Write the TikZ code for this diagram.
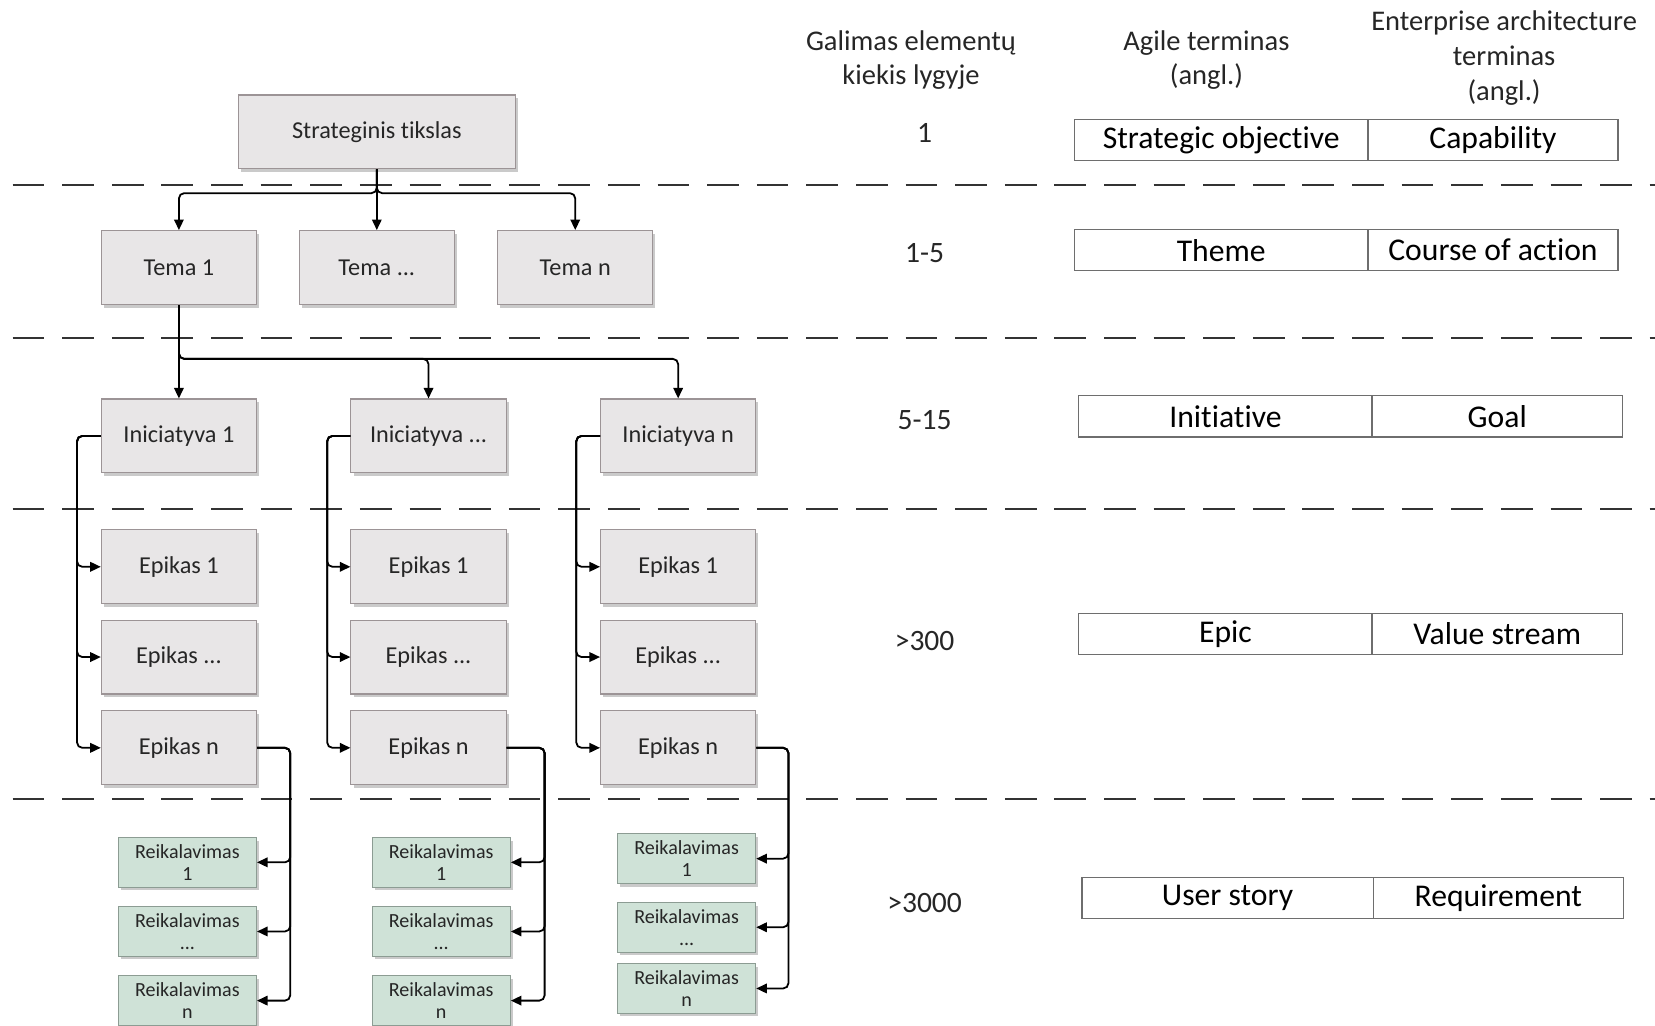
\documentclass[tikz,border=0pt]{standalone}
\usepackage{fontspec}
\setmainfont{Carlito}[Ligatures=NoCommon]
\usetikzlibrary{shadows,arrows.meta}
\definecolor{boxfill}{HTML}{E8E6E7}
\definecolor{boxline}{HTML}{9C9496}
\definecolor{grfill}{HTML}{CFE2D7}
\definecolor{grline}{HTML}{8C9C93}
\definecolor{sepline}{HTML}{333333}
\definecolor{cellline}{HTML}{6E6E6E}
\begin{document}
\begin{tikzpicture}[x=1pt,y=-1pt,
  gbox/.style={draw=boxline, line width=1pt, fill=boxfill, minimum width=147pt, minimum height=70pt, inner sep=2pt,
    font=\fontsize{23}{27}\selectfont, text=black!85,
    drop shadow={shadow xshift=2.5pt, shadow yshift=-3pt, opacity=0.35, fill=black!60}},
  rbox/.style={gbox, fill=grfill, draw=grline, minimum width=131pt, minimum height=47pt, inner sep=1pt, align=center,
    font=\fontsize{19}{21}\selectfont},
  arr/.style={-{Triangle[length=10pt,width=9pt]}, line width=1.7pt, rounded corners=5pt},
  sep/.style={draw=sepline, line width=2.2pt, dash pattern=on 30pt off 17pt},
  cell/.style={draw=cellline, line width=1.3pt, minimum height=39pt, inner sep=0pt, font=\fontsize{30}{34}\selectfont},
  head/.style={align=center, font=\fontsize{27}{32}\selectfont, text=black!85},
  num/.style={font=\fontsize{28}{32}\selectfont, text=black!85}]

\useasboundingbox (0,0) rectangle (1568,972);

% separators
\foreach \yy in {175,320,482,757} \draw[sep] (12,\yy) -- (1568,\yy);

% headers
\node[head] (h1) at (863,57) {Galimas elementų\\kiekis lygyje};
\node[head] (h2) at (1143,57) {Agile terminas\\(angl.)};
\node[head, font=\fontsize{27}{33}\selectfont] (h3) at (1425,55) {Enterprise architecture\\terminas\\(angl.)};

% numbers
\node[num] (n1) at (876,126) {1};
\node[num] (n2) at (876,240) {1-5};
\node[num] (n3) at (876,398) {5-15};
\node[num] (n4) at (876,607) {>300};
\node[num] (n5) at (876,856) {>3000};

% table cells
\node[cell, minimum width=278pt] (a1) at (1157,132.5) {Strategic objective};
\node[cell, minimum width=237pt] (b1) at (1414.5,132.5) {Capability};
\node[cell, minimum width=278pt] (a2) at (1157,237) {Theme};
\node[cell, minimum width=237pt] (b2) at (1414.5,237) {Course of action};
\node[cell, minimum width=278pt] (a3) at (1161,394.5) {Initiative};
\node[cell, minimum width=237pt] (b3) at (1418.5,394.5) {Goal};
\node[cell, minimum width=278pt] (a4) at (1161,600.5) {Epic};
\node[cell, minimum width=237pt] (b4) at (1418.5,600.5) {Value stream};
\node[cell, minimum width=276pt] (a5) at (1163,851) {User story};
\node[cell, minimum width=237pt] (b5) at (1419.5,851) {Requirement};

% hierarchy boxes
\node[gbox, minimum width=262pt] (strat) at (357,125) {Strateginis tikslas};
\node[gbox] (t1) at (169.5,253.5) {Tema 1};
\node[gbox] (t2) at (357,253.5) {Tema ...};
\node[gbox] (t3) at (545,253.5) {Tema n};

\node[gbox] (i1) at (169.5,413) {Iniciatyva 1};
\node[gbox] (i2) at (406,413) {Iniciatyva ...};
\node[gbox] (i3) at (642.5,413) {Iniciatyva n};

\foreach \c/\xx in {1/169.5,2/406,3/642.5}{
  \node[gbox] (e\c1) at (\xx,537) {Epikas 1};
  \node[gbox] (e\c2) at (\xx,622.5) {Epikas ...};
  \node[gbox] (e\c3) at (\xx,708.5) {Epikas n};
}

\node[rbox] (r11) at (177.5,817) {Reikalavimas\\1};
\node[rbox] (r12) at (177.5,882.5) {Reikalavimas\\...};
\node[rbox] (r13) at (177.5,948) {Reikalavimas\\n};
\node[rbox] (r21) at (418,817) {Reikalavimas\\1};
\node[rbox] (r22) at (418,882.5) {Reikalavimas\\...};
\node[rbox] (r23) at (418,948) {Reikalavimas\\n};
\node[rbox] (r31) at (650.5,813.5) {Reikalavimas\\1};
\node[rbox] (r32) at (650.5,878.5) {Reikalavimas\\...};
\node[rbox] (r33) at (650.5,936.5) {Reikalavimas\\n};

% connectors
\coordinate (bus1) at (357,183);
\draw[arr] (strat.south) |- (bus1) -| (t1.north);
\draw[arr] (strat.south) |- (bus1) -| (t3.north);
\draw[arr] (strat.south) -- (t2.north);

\coordinate (bus2) at (169.5,340);
\draw[arr] (t1.south) -- (i1.north);
\draw[arr] (t1.south) |- (bus2) -| (i2.north);
\draw[arr] (t1.south) |- (bus2) -| (i3.north);

\coordinate (sp1) at (73,413);
\coordinate (sp2) at (310,413);
\coordinate (sp3) at (546,413);
\foreach \c in {1,2,3}{
  \foreach \r in {1,2,3}{
    \draw[arr] (i\c.west) -- (sp\c) |- (e\c\r.west);
  }
}

\coordinate (rp1) at (275,708.5);
\coordinate (rp2) at (516,708.5);
\coordinate (rp3) at (747,708.5);
\foreach \c in {1,2,3}{
  \foreach \r in {1,2,3}{
    \draw[arr] (e\c3.east) -- (rp\c) |- (r\c\r.east);
  }
}
\end{tikzpicture}
\end{document}
